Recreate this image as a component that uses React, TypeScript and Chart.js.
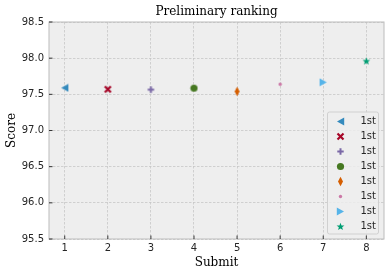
import React, { useEffect, useRef } from "react";
import { Chart, registerables } from "chart.js";

Chart.register(...registerables);

const submits = [1, 2, 3, 4, 5, 6, 7, 8];
const scores = [97.59, 97.57, 97.565, 97.585, 97.54, 97.64, 97.667, 97.96];
const seriesLabels = ["1st", "1st", "1st", "1st", "1st", "1st", "1st", "1st"];
const colors = ["#348ABD", "#A60628", "#7A68A6", "#467821", "#D55E00", "#CC79A7", "#56B4E9", "#009E73"];
const markers = ["tri-left", "x", "plus", "circle", "diamond", "point", "tri-right", "star"];
const xTicks = [1, 2, 3, 4, 5, 6, 7, 8];
const yTicks = [95.5, 96.0, 96.5, 97.0, 97.5, 98.0, 98.5];
const titleText = "Preliminary ranking";

function makeMarker(kind: string, color: string): HTMLCanvasElement {
  const c = document.createElement("canvas");
  let w = 9, h = 9;
  if (kind === "diamond") { w = 7; h = 11; }
  if (kind === "point") { w = 5; h = 5; }
  if (kind === "star") { w = 9; h = 9; }
  c.width = w; c.height = h;
  const ctx = c.getContext("2d")!;
  ctx.fillStyle = color;
  ctx.strokeStyle = color;
  ctx.beginPath();
  if (kind === "tri-left") {
    ctx.moveTo(1, 4.5); ctx.lineTo(8.2, 0.5); ctx.lineTo(8.2, 8.5); ctx.closePath(); ctx.fill();
  } else if (kind === "tri-right") {
    ctx.moveTo(8, 4.5); ctx.lineTo(0.8, 0.5); ctx.lineTo(0.8, 8.5); ctx.closePath(); ctx.fill();
  } else if (kind === "x") {
    ctx.lineWidth = 2.2;
    ctx.moveTo(1.5, 1.5); ctx.lineTo(7.5, 7.5); ctx.moveTo(7.5, 1.5); ctx.lineTo(1.5, 7.5); ctx.stroke();
  } else if (kind === "plus") {
    ctx.lineWidth = 2;
    ctx.moveTo(1.3, 4.5); ctx.lineTo(7.7, 4.5); ctx.moveTo(4.5, 1.3); ctx.lineTo(4.5, 7.7); ctx.stroke();
  } else if (kind === "circle") {
    ctx.arc(4.5, 4.5, 3.6, 0, Math.PI * 2); ctx.fill();
  } else if (kind === "diamond") {
    ctx.moveTo(3.5, 0.8); ctx.lineTo(6, 5.5); ctx.lineTo(3.5, 10.2); ctx.lineTo(1, 5.5); ctx.closePath(); ctx.fill();
  } else if (kind === "point") {
    ctx.arc(2.5, 2.5, 1.7, 0, Math.PI * 2); ctx.fill();
  } else if (kind === "star") {
    const cx = 4.5, cy = 4.8, R = 4.1, r = 1.75;
    for (let i = 0; i < 10; i++) {
      const a = -Math.PI / 2 + (i * Math.PI) / 5;
      const rr = i % 2 === 0 ? R : r;
      const px = cx + rr * Math.cos(a), py = cy + rr * Math.sin(a);
      if (i === 0) ctx.moveTo(px, py); else ctx.lineTo(px, py);
    }
    ctx.closePath(); ctx.fill();
  }
  return c;
}

const framePlugin = {
  id: "frame",
  beforeDraw(chart: any) {
    const { ctx, chartArea: a } = chart;
    ctx.save();
    ctx.fillStyle = "#eeeeee";
    ctx.fillRect(a.left, a.top, a.right - a.left, a.bottom - a.top);
    ctx.restore();
  },
  afterDraw(chart: any) {
    const { ctx, chartArea: a, scales } = chart;
    ctx.save();
    // title centred over the axes
    ctx.fillStyle = "#000";
    ctx.font = "12px 'DejaVu Serif'";
    ctx.textAlign = "center";
    ctx.textBaseline = "middle";
    ctx.fillText(titleText, (a.left + a.right) / 2, 11.5);

    ctx.strokeStyle = "#bcbcbc";
    ctx.lineWidth = 1;
    ctx.strokeRect(a.left, a.top, a.right - a.left, a.bottom - a.top);
    // inward tick marks
    ctx.strokeStyle = "#222";
    ctx.lineWidth = 0.9;
    ctx.beginPath();
    for (const v of xTicks) {
      const x = scales.x.getPixelForValue(v);
      ctx.moveTo(x, a.bottom); ctx.lineTo(x, a.bottom - 3.5);
    }
    for (const v of yTicks) {
      const y = scales.y.getPixelForValue(v);
      ctx.moveTo(a.left, y); ctx.lineTo(a.left + 3.5, y);
    }
    ctx.stroke();
    // legend
    const bw = 51, bh = 122;
    const bx = a.right - 5.5 - bw, by = a.bottom - 5 - bh;
    ctx.fillStyle = "rgba(238,238,238,0.8)";
    ctx.strokeStyle = "#d0d0d0";
    ctx.lineWidth = 1;
    ctx.beginPath();
    if (ctx.roundRect) ctx.roundRect(bx, by, bw, bh, 2); else ctx.rect(bx, by, bw, bh);
    ctx.fill();
    ctx.stroke();
    ctx.font = "10px 'DejaVu Sans'";
    ctx.textBaseline = "middle";
    ctx.textAlign = "left";
    chart.data.datasets.forEach((ds: any, i: number) => {
      const ry = by + 9 + i * 15;
      const img = ds.pointStyle as HTMLCanvasElement;
      ctx.drawImage(img, Math.round(bx + 13 - img.width / 2), Math.round(ry - img.height / 2));
      ctx.fillStyle = "#262626";
      ctx.fillText(ds.label, bx + 33, ry + 0.5);
    });
    ctx.restore();
  },
};

export default function App() {
  const ref = useRef<HTMLCanvasElement>(null);
  useEffect(() => {
    document.body.style.margin = "0";
    const datasets = submits.map((s, i) => ({
      label: seriesLabels[i],
      data: [{ x: s, y: scores[i] }],
      pointStyle: makeMarker(markers[i], colors[i]),
      pointRadius: 4,
      backgroundColor: colors[i],
      borderColor: colors[i],
    }));
    const chart = new Chart(ref.current!, {
      type: "scatter",
      data: { datasets },
      plugins: [framePlugin],
      options: {
        animation: false,
        responsive: false,
        devicePixelRatio: 1,
        layout: { padding: { left: 0, right: 6, top: 22, bottom: 0 } },
        plugins: {
          legend: { display: false },
          tooltip: { enabled: false },
          title: { display: false },
        },
        scales: {
          x: {
            type: "linear",
            min: 0.635,
            max: 8.41,
            afterFit: (s: any) => { s.height = 33; },
            afterBuildTicks: (s: any) => { s.ticks = xTicks.map((v) => ({ value: v })); },
            ticks: {
              color: "#262626",
              font: { family: "'DejaVu Sans'", size: 10 },
              padding: 3,
              maxRotation: 0,
              callback: (v: any) => String(v),
            },
            grid: { color: "#c6c6c6", lineWidth: 0.8, drawTicks: false },
            border: { display: false, dash: [2.5, 1.5] },
            title: {
              display: true,
              text: "Submit",
              color: "#000",
              font: { family: "'DejaVu Serif'", size: 12 },
              padding: { top: 0, bottom: 2.3 },
            },
          },
          y: {
            type: "linear",
            min: 95.5,
            max: 98.5,
            afterFit: (s: any) => { s.width = 49; },
            afterBuildTicks: (s: any) => { s.ticks = yTicks.map((v) => ({ value: v })); },
            ticks: {
              color: "#262626",
              font: { family: "'DejaVu Sans'", size: 10 },
              padding: 5,
              callback: (v: any) => Number(v).toFixed(1),
            },
            grid: { color: "#c6c6c6", lineWidth: 0.8, drawTicks: false },
            border: { display: false, dash: [2.5, 1.5] },
            title: {
              display: true,
              text: "Score",
              color: "#000",
              font: { family: "'DejaVu Serif'", size: 12 },
              padding: { top: 4.5, bottom: 0 },
            },
          },
        },
      } as any,
    });
    return () => chart.destroy();
  }, []);
  return (
    <div style={{ position: "fixed", left: 0, top: 0, width: 390, height: 272 }}>
      <canvas ref={ref} width={390} height={272} style={{ display: "block", width: 390, height: 272 }} />
    </div>
  );
}
